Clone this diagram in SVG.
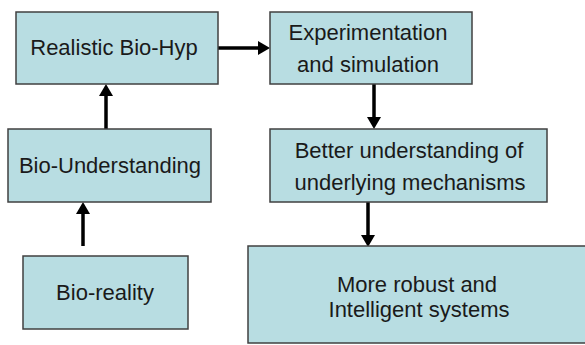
<svg xmlns="http://www.w3.org/2000/svg" width="585" height="345" viewBox="0 0 585 345">
<style>
.box{fill:#b8dde2;stroke:#404040;stroke-width:1.5}
.t{font-family:"Liberation Sans",Arial,sans-serif;font-size:22px;fill:#1a1a1a;text-anchor:middle}
.c{stroke:#000;stroke-width:3.5;fill:none}
</style>
<defs>
<marker id="ah" markerUnits="userSpaceOnUse" markerWidth="12" markerHeight="14" refX="4" refY="7" orient="auto">
<path d="M0,0 L12,7 L0,14 z" fill="#000"/>
</marker>
</defs>
<rect width="585" height="345" fill="#fff"/>
<g id="connectors">
<line class="c" x1="218" y1="48" x2="262" y2="48" marker-end="url(#ah)"/>
<line class="c" x1="374" y1="84" x2="374" y2="121" marker-end="url(#ah)"/>
<line class="c" x1="106" y1="129" x2="106" y2="92" marker-end="url(#ah)"/>
<line class="c" x1="83" y1="246" x2="83" y2="210" marker-end="url(#ah)"/>
<line class="c" x1="368" y1="202" x2="368" y2="239" marker-end="url(#ah)"/>
</g>
<g id="realistic">
<rect class="box" x="16" y="12" width="202" height="72"/>
<text class="t" x="114" y="55">Realistic Bio-Hyp</text>
</g>
<g id="experimentation">
<rect class="box" x="270" y="12" width="202" height="72"/>
<text class="t" x="368" y="40">Experimentation</text>
<text class="t" x="368" y="72">and simulation</text>
</g>
<g id="biounderstanding">
<rect class="box" x="8" y="129" width="203" height="73"/>
<text class="t" x="110" y="173">Bio-Understanding</text>
</g>
<g id="better">
<rect class="box" x="270" y="129" width="277" height="73"/>
<text class="t" x="409" y="158">Better understanding of</text>
<text class="t" x="410" y="190">underlying mechanisms</text>
</g>
<g id="bioreality">
<rect class="box" x="23" y="256" width="165" height="73"/>
<text class="t" x="105" y="300">Bio-reality</text>
</g>
<g id="robust">
<rect class="box" x="248" y="246" width="345" height="97"/>
<text class="t" x="417" y="292">More robust and</text>
<text class="t" x="419" y="317">Intelligent systems</text>
</g>
</svg>
